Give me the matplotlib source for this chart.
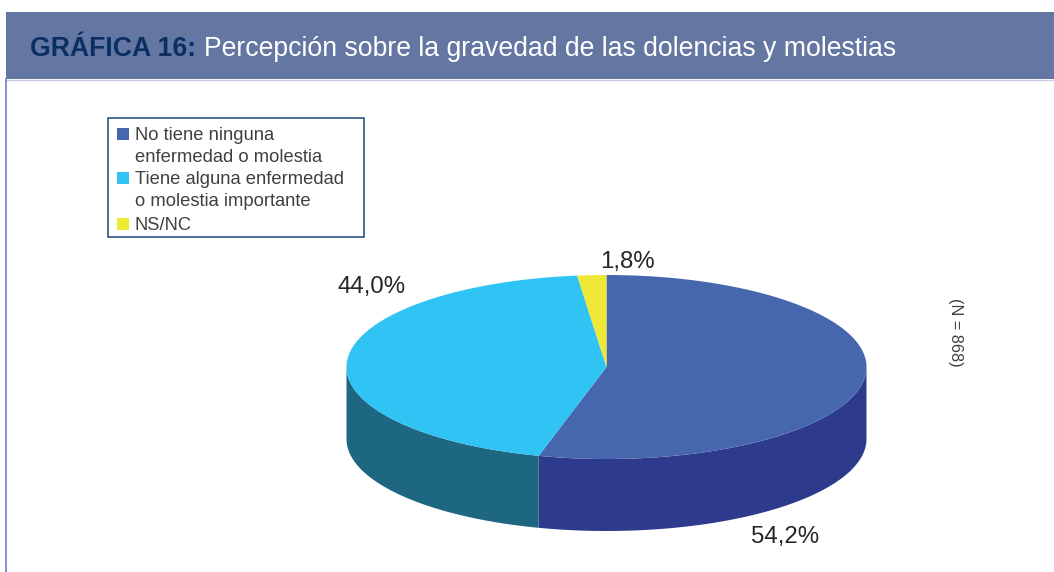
#!/usr/bin/env python3
"""Gráfica 16: pseudo-3D pie, drawn in a pixel-sized axes."""
import matplotlib
matplotlib.use("Agg")
import matplotlib.pyplot as plt
from matplotlib.patches import Rectangle
import numpy as np

plt.rcParams["font.family"] = ["Liberation Sans", "DejaVu Sans"]

TITLE_BOLD = "GRÁFICA 16:"
TITLE_REST = "Percepción sobre la gravedad de las dolencias y molestias"
NOTE = "(N = 868)"

VALUES = [54.2, 44.0, 1.8]
VALUE_LABELS = ["54,2%", "44,0%", "1,8%"]
LEGEND_LABELS = ["No tiene ninguna\nenfermedad o molestia",
                 "Tiene alguna enfermedad\no molestia importante",
                 "NS/NC"]
TOP_COLORS = ["#4667AE", "#30C4F4", "#EEE836"]
SIDE_COLORS = ["#2E3A8C", "#1E6783", "#A8A420"]

W, H = 1054, 572
CX, CY, RX, RY, DEPTH = 606.5, 367, 260, 92, 72


def ellipse(theta):
    # theta runs clockwise from twelve o'clock
    return CX + RX * np.sin(theta), CY - RY * np.cos(theta)


fig = plt.figure(figsize=(W / 100, H / 100), dpi=100)
ax = fig.add_axes([0, 0, 1, 1])
ax.set_xlim(0, W)
ax.set_ylim(H, 0)
ax.axis("off")

# header band and left rule
ax.add_patch(Rectangle((6, 12), W - 6, 67, fc="#6477A2", ec="none"))
ax.plot([6, W], [79.5, 79.5], color="#C5CEE4", lw=1)
ax.plot([6, 6], [79, H], color="#6C7FC4", lw=1.2)
t = ax.text(30, 48.5, TITLE_BOLD, color="#0B2E63", fontsize=19.15,
            fontweight="bold", va="center", ha="left")
fig.canvas.draw()
x1 = t.get_window_extent().x1
ax.text(x1 + 8, 48.5, TITLE_REST, color="white", fontsize=19.2,
        va="center", ha="left")

# slices: side wall first, then top face
edges = np.radians(np.concatenate([[0], np.cumsum(VALUES)]) * 3.6)
for i in range(len(VALUES)):
    lo, hi = max(edges[i], np.pi / 2), min(edges[i + 1], 3 * np.pi / 2)
    if hi > lo:
        th = np.linspace(lo, hi, 200)
        x, y = ellipse(th)
        ax.fill(np.r_[x, x[::-1]], np.r_[y, y[::-1] + DEPTH],
                color=SIDE_COLORS[i], lw=0)
for i in range(len(VALUES)):
    th = np.linspace(edges[i], edges[i + 1], 300)
    x, y = ellipse(th)
    ax.fill(np.r_[CX, x], np.r_[CY, y], color=TOP_COLORS[i], lw=0)

# value labels
label_pos = [(785.5, 537), (371.5, 286.5), (627, 262)]
for lab, (lx, ly) in zip(VALUE_LABELS, label_pos):
    ax.text(lx, ly, lab, fontsize=17.3, color="#262626",
            ha="center", va="center")

ax.text(956, 332.5, NOTE, rotation=270, fontsize=11.7, color="#404040",
        ha="center", va="center")

# hand-placed legend box
ax.add_patch(Rectangle((108, 117.5), 256, 119.5, fc="white", ec="#1F4A7C", lw=1.1))
legend_y = [134, 178, 224]
for lab, col, ly in zip(LEGEND_LABELS, TOP_COLORS, legend_y):
    ax.add_patch(Rectangle((117, ly - 6), 12, 12, fc=col, ec="none"))
    ax.text(135, ly - 7, lab, fontsize=13.2, color="#404040", ha="left",
            va="top", linespacing=1.4)

fig.savefig("out.png", dpi=100)
